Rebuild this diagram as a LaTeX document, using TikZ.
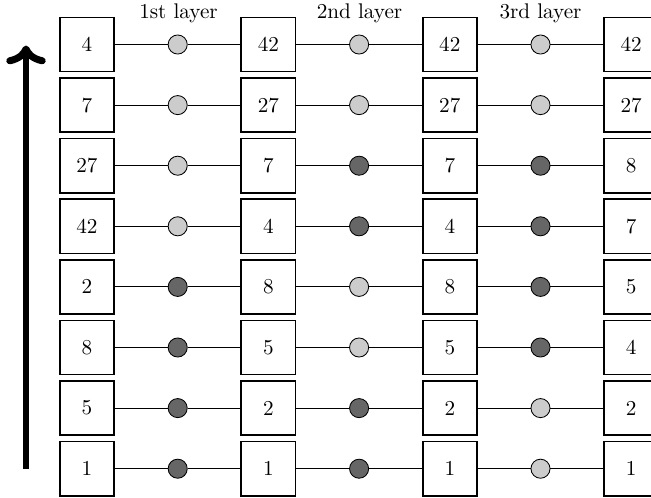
\documentclass[tikz,border=0pt]{standalone}
\usetikzlibrary{arrows.meta,calc}
\begin{document}
\begin{tikzpicture}[x=0.4717pt,y=-0.4717pt,
  numbox/.style={draw,thick,minimum size=25.6pt,inner sep=0pt,font=\normalsize},
  cmp/.style={draw,circle,thin,minimum size=9pt,inner sep=0pt},
  lightc/.style={cmp,fill=black!20},
  darkc/.style={cmp,fill=black!60},
  wire/.style={thin},
  layerlabel/.style={anchor=base,inner sep=0pt}]
\useasboundingbox (0,0) rectangle (651,497);
% boxes
\foreach \col/\vals in {1/{4,7,27,42,2,8,5,1},2/{42,27,7,4,8,5,2,1},3/{42,27,7,4,8,5,2,1},4/{42,27,8,7,5,4,2,1}}{
  \foreach \v [count=\r] in \vals {
    \node[numbox] (b-\col-\r) at ({87+181.4*(\col-1)},{44.5+60.6*(\r-1)}) {\v};
  }
}
% comparators
\foreach \lay/\kinds in {1/{lightc,lightc,lightc,lightc,darkc,darkc,darkc,darkc},2/{lightc,lightc,darkc,darkc,lightc,lightc,darkc,darkc},3/{lightc,lightc,darkc,darkc,darkc,darkc,lightc,lightc}}{
  \foreach \k [count=\r] in \kinds {
    \pgfmathtruncatemacro{\nx}{\lay+1}
    \node[\k] (c-\lay-\r) at ($(b-\lay-\r)!0.5!(b-\nx-\r)$) {};
    \draw[wire] (b-\lay-\r) -- (c-\lay-\r);
    \draw[wire] (c-\lay-\r) -- (b-\nx-\r);
  }
}
% labels
\node[layerlabel] (l1) at (178.5,18.5) {1st layer};
\node[layerlabel] (l2) at (359.5,18.5) {2nd layer};
\node[layerlabel] (l3) at (540.5,18.5) {3rd layer};
% arrow
\coordinate (aS) at (26,468.5);
\coordinate (aE) at (26,45.5);
\draw[line width=3.3pt,->] (aS) -- (aE);
\end{tikzpicture}
\end{document}
